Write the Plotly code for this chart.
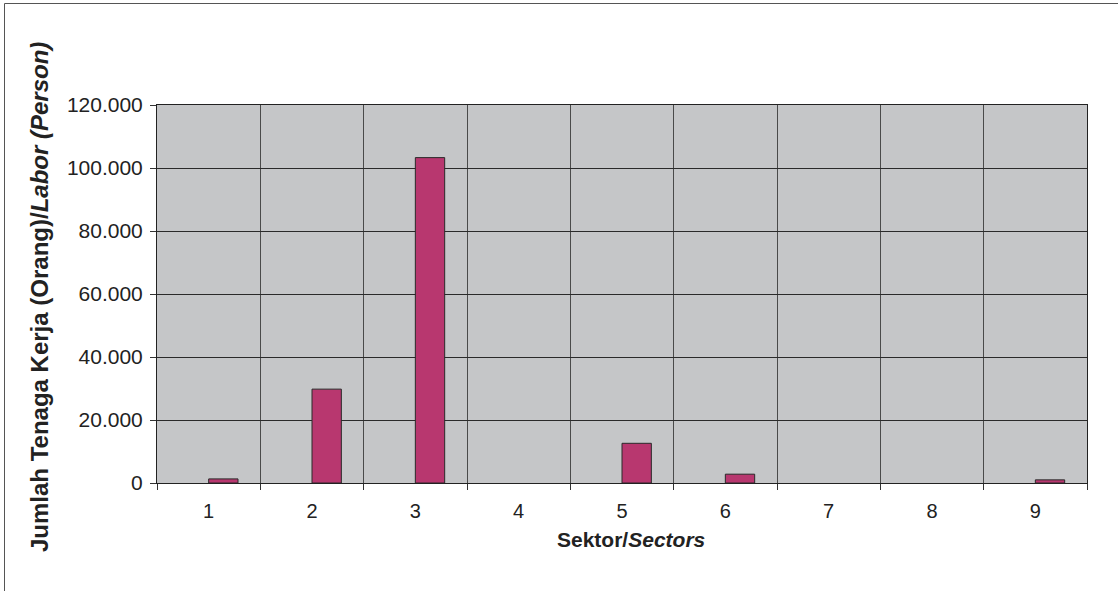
import plotly.graph_objects as go

# Labour absorbed per sector (persons)
sectors = [1, 2, 3, 4, 5, 6, 7, 8, 9]
sector_labels = ["1", "2", "3", "4", "5", "6", "7", "8", "9"]
labor = [1300, 29800, 103300, 0, 12600, 2800, 0, 0, 1000]

y_ticks = [0, 20000, 40000, 60000, 80000, 100000, 120000]
boundaries = [0.5 + i for i in range(10)]

W, H = 1118, 591
L, R, T, B = 157, 31, 105, 108
pw, ph = W - L - R, H - T - B


def px(x):
    return (x - L) / pw


def py(y):
    return (H - B - y) / ph


font_family = "Liberation Sans, Arial, sans-serif"

fig = go.Figure()
fig.add_trace(go.Bar(
    x=sectors,
    y=labor,
    width=0.284,
    offset=0,
    marker=dict(
        color="#b8376f",
        line=dict(color="#2a2a2a", width=[1 if v > 0 else 0 for v in labor]),
    ),
    showlegend=False,
))

fig.update_layout(
    width=W,
    height=H,
    margin=dict(l=L, r=R, t=T, b=B, pad=0),
    paper_bgcolor="white",
    plot_bgcolor="#c5c6c8",
    separators=",.",
    font=dict(family=font_family, color="#222222"),
    xaxis=dict(
        range=[0.5, 9.5],
        tickmode="array",
        tickvals=sectors,
        ticktext=sector_labels,
        ticks="outside",
        ticklen=10,
        tickcolor="rgba(0,0,0,0)",
        showgrid=False,
        zeroline=False,
        showline=True,
        linecolor="#222222",
        linewidth=1,
        mirror=True,
        tickfont=dict(size=20, color="#222222"),
        minor=dict(
            tickmode="array",
            tickvals=boundaries,
            ticks="outside",
            ticklen=6,
            tickcolor="#333333",
            showgrid=True,
            gridcolor="#4a4a4a",
            gridwidth=1,
        ),
    ),
    yaxis=dict(
        range=[0, 120000],
        tickmode="array",
        tickvals=y_ticks,
        tickformat=",d",
        ticks="outside",
        ticklen=6,
        tickcolor="#333333",
        showgrid=True,
        gridcolor="#2a2a2a",
        gridwidth=1,
        zeroline=False,
        showline=True,
        linecolor="#222222",
        linewidth=1,
        mirror=True,
        tickfont=dict(size=21, color="#222222"),
        ticklabelstandoff=3,
    ),
    annotations=[
        dict(
            text="<b>Jumlah Tenaga Kerja (Orang)/<i>Labor (Person)</i></b>",
            xref="paper", yref="paper",
            x=px(39), y=py(297),
            xanchor="center", yanchor="middle",
            textangle=-90,
            showarrow=False,
            font=dict(size=24, family=font_family, color="#222222"),
        ),
        dict(
            text="<b>Sektor/<i>Sectors</i></b>",
            xref="paper", yref="paper",
            x=px(631), y=py(539),
            xanchor="center", yanchor="middle",
            showarrow=False,
            font=dict(size=21, family=font_family, color="#222222"),
        ),
    ],
    shapes=[
        dict(type="line", xref="paper", yref="paper",
             x0=px(4.5), y0=py(3.5), x1=px(4.5), y1=py(591),
             line=dict(color="#555555", width=1)),
        dict(type="line", xref="paper", yref="paper",
             x0=px(4.5), y0=py(3.5), x1=px(1118), y1=py(3.5),
             line=dict(color="#555555", width=1)),
    ],
)

fig.write_html("out.html")
